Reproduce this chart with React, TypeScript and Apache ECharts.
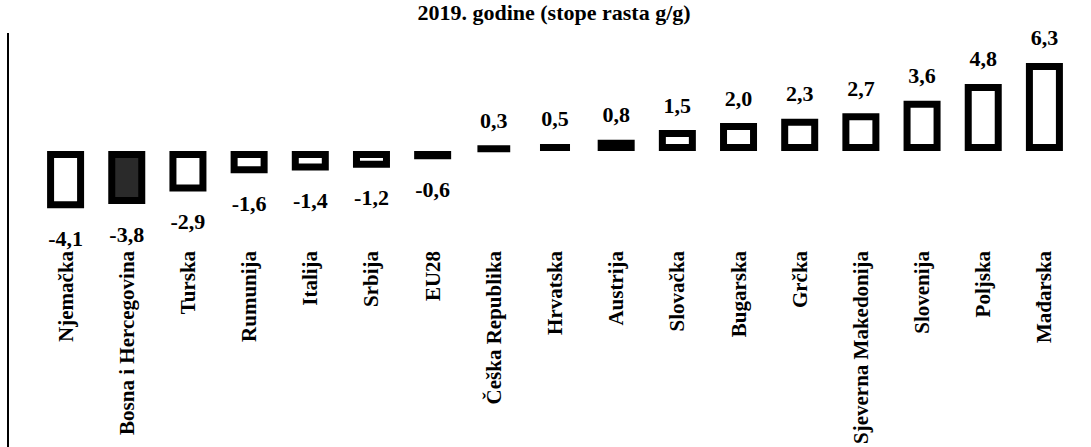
import React, { useEffect, useRef } from "react";
import * as echarts from "echarts";

const categories: string[] = [
  "Njemačka",
  "Bosna i Hercegovina",
  "Turska",
  "Rumunija",
  "Italija",
  "Srbija",
  "EU28",
  "Češka Republika",
  "Hrvatska",
  "Austrija",
  "Slovačka",
  "Bugarska",
  "Grčka",
  "Sjeverna Makedonija",
  "Slovenija",
  "Poljska",
  "Mađarska",
];

const growthRates: number[] = [
  -4.1, -3.8, -2.9, -1.6, -1.4, -1.2, -0.6, 0.3, 0.5, 0.8, 1.5, 2.0, 2.3, 2.7, 3.6, 4.8, 6.3,
];

const titleText = "2019. godine (stope rasta g/g)";

const darkFilled: string[] = ["Bosna i Hercegovina"];

const FONT = "'Liberation Serif', 'Times New Roman', serif";

export default function App() {
  const ref = useRef<HTMLDivElement>(null);

  useEffect(() => {
    if (!ref.current) return;
    const chart = echarts.init(ref.current, undefined, { renderer: "svg" });

    const data = growthRates.map((v, i) => ({
      value: v,
      itemStyle: {
        color: darkFilled.includes(categories[i]) ? "#2a2a2a" : "#ffffff",
      },
      label: { position: v < 0 ? "bottom" : "top", distance: v < 0 ? 19 : 14 },
    }));

    chart.setOption({
      animation: false,
      backgroundColor: "#ffffff",
      graphic: [
        {
          type: "text",
          x: 554,
          y: 12,
          style: {
            text: titleText,
            font: `bold 22px ${FONT}`,
            fill: "#000",
            textAlign: "center",
            textVerticalAlign: "middle",
          },
        },
        {
          type: "line",
          shape: { x1: 8, y1: 33, x2: 8, y2: 447 },
          style: { stroke: "#000", lineWidth: 2 },
        },
      ],
      grid: { left: 35, right: 16, top: 56, height: 195, containLabel: false },
      xAxis: {
        type: "category",
        data: categories,
        axisLine: { show: false, onZero: false },
        axisTick: { show: false },
        splitLine: { show: false },
        axisLabel: {
          rotate: 90,
          margin: 5,
          interval: 0,
          color: "#000",
          fontFamily: FONT,
          fontWeight: "bold",
          fontSize: 21,
        },
      },
      yAxis: {
        type: "value",
        min: -6.8,
        max: 6.8,
        show: false,
        splitLine: { show: false },
      },
      series: [
        {
          type: "bar",
          data,
          barWidth: 37,
          itemStyle: { borderColor: "#000", borderWidth: 7 },
          label: {
            show: true,
            color: "#000",
            fontFamily: FONT,
            fontWeight: "bold",
            fontSize: 22,
            formatter: (p: any) => Number(p.value).toFixed(1).replace(".", ","),
          },
        },
      ],
    });

    return () => chart.dispose();
  }, []);

  return (
    <div
      ref={ref}
      style={{ position: "fixed", left: 0, top: 0, width: 1091, height: 447 }}
    />
  );
}
